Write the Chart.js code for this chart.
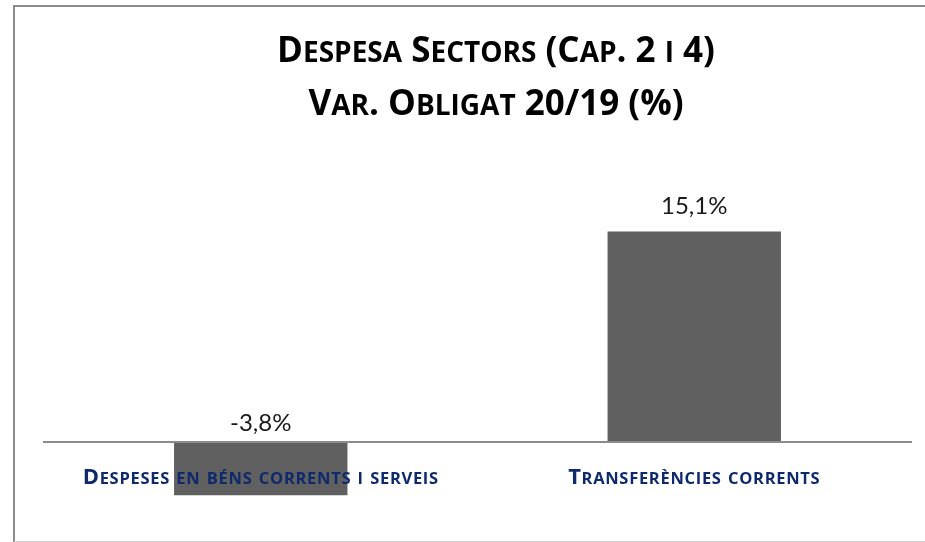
<!DOCTYPE html>
<html lang="ca">
<head>
    <meta charset="UTF-8">
    <title>Despesa Sectors (Cap. 2 i 4)</title>
    <script src="https://cdn.jsdelivr.net/npm/chart.js@4/dist/chart.umd.min.js"></script>
    <style>
        body { margin: 0; background: #fff; }
        .wrap { position: relative; width: 925px; height: 542px; overflow: hidden; }
        .frame { position: absolute; left: 13px; top: 5px; width: 1000px; height: 534px;
                 border-left: 2px solid #8c8c8c; border-top: 2px solid #8c8c8c; border-bottom: 1px solid #d0d0d0; }
        canvas { position: absolute; left: 0; top: 0; }
    </style>
</head>
<body>
    <div class="wrap">
        <div class="frame"></div>
        <canvas id="chart" width="925" height="542"></canvas>
    </div>

    <script>
        // Dades
        const categories = ['Despeses en béns corrents i serveis', 'Transferències corrents'];
        const variacio = [-3.8, 15.1];
        const titleLines = ['Despesa Sectors (Cap. 2 i 4)', 'Var. Obligat 20/19 (%)'];

        const capsFont = '"Open Sans", Lato, sans-serif';
        const valueFont = 'Lato, "Open Sans", sans-serif';

        // versaletes fetes a mà: majúscules a mida plena, minúscules en majúscula petita
        function drawSmallCaps(ctx, text, cx, y, size, ratio, spacing) {
            const runs = [];
            for (const ch of text) {
                const small = ch !== ch.toUpperCase();
                const last = runs[runs.length - 1];
                if (last && last.small === small) last.t += ch.toUpperCase();
                else runs.push({ small, t: ch.toUpperCase() });
            }
            ctx.letterSpacing = spacing + 'px';
            let total = 0;
            runs.forEach(r => {
                ctx.font = 'bold ' + (r.small ? size * ratio : size) + 'px ' + capsFont;
                r.w = ctx.measureText(r.t).width;
                total += r.w;
            });
            let x = cx - total / 2;
            ctx.textAlign = 'left';
            ctx.textBaseline = 'alphabetic';
            runs.forEach(r => {
                ctx.font = 'bold ' + (r.small ? size * ratio : size) + 'px ' + capsFont;
                ctx.fillText(r.t, x, y);
                x += r.w;
            });
        }

        const titlePlugin = {
            id: 'titlePlugin',
            afterDraw(chart) {
                const ctx = chart.ctx;
                ctx.save();
                ctx.fillStyle = '#000';
                drawSmallCaps(ctx, titleLines[0], 496, 62, 35, 0.8, 0);
                drawSmallCaps(ctx, titleLines[1], 496, 115, 35, 0.8, 0);
                ctx.restore();
            }
        };

        // etiquetes de categoria sota l'eix zero, per damunt de les barres
        const categoryLabels = {
            id: 'categoryLabels',
            afterDatasetsDraw(chart) {
                const ctx = chart.ctx;
                const xs = chart.scales.x;
                const zero = chart.scales.y.getPixelForValue(0);
                ctx.save();
                ctx.fillStyle = '#0e2a6c';
                categories.forEach((c, i) => {
                    drawSmallCaps(ctx, c, xs.getPixelForTick(i), zero + 42, 22, 0.75, 0.7);
                });
                ctx.restore();
            }
        };

        // etiquetes de valor sobre les barres
        const valueLabels = {
            id: 'valueLabels',
            afterDatasetsDraw(chart) {
                const ctx = chart.ctx;
                const meta = chart.getDatasetMeta(0);
                ctx.save();
                ctx.font = '24px ' + valueFont;
                ctx.fillStyle = '#1a1a1a';
                ctx.textAlign = 'center';
                ctx.textBaseline = 'middle';
                meta.data.forEach((bar, i) => {
                    const v = variacio[i];
                    const top = Math.min(bar.y, bar.base);
                    const off = v >= 0 ? 25 : 19;
                    ctx.fillText(v.toFixed(1).replace('.', ',') + '%', bar.x, top - off);
                });
                ctx.restore();
            }
        };

        new Chart(document.getElementById('chart'), {
            type: 'bar',
            data: {
                labels: categories,
                datasets: [{
                    data: variacio,
                    backgroundColor: '#606060',
                    borderWidth: 0,
                    categoryPercentage: 1,
                    barPercentage: 0.4
                }]
            },
            options: {
                responsive: false,
                animation: false,
                layout: { padding: { left: 44, right: 14, top: 163, bottom: 30 } },
                scales: {
                    x: {
                        position: { y: 0 },
                        grid: { display: false, drawTicks: false },
                        border: { display: true, color: '#8c8c8c', width: 2, z: 1 },
                        ticks: { display: false }
                    },
                    y: {
                        display: false,
                        min: -5,
                        max: 20
                    }
                },
                plugins: {
                    legend: { display: false },
                    tooltip: { enabled: false },
                    title: { display: false }
                }
            },
            plugins: [valueLabels, categoryLabels, titlePlugin]
        });
    </script>
</body>
</html>
